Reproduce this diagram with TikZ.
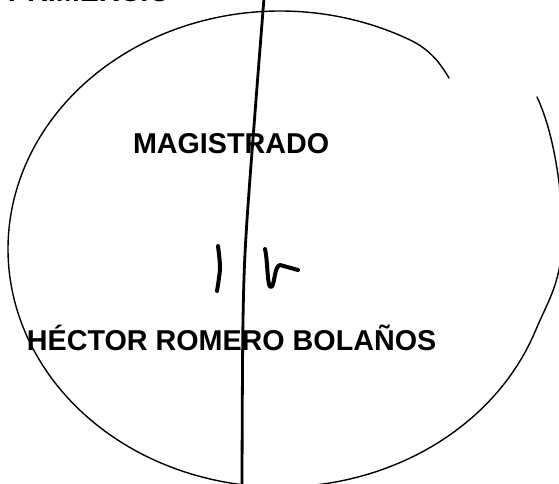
\documentclass[tikz,border=0pt]{standalone}
\usepackage{fontspec}
\setmainfont{Liberation Sans}
\begin{document}
\begin{tikzpicture}[x=1pt,y=-1pt,
  lbl/.style={inner sep=0pt,outer sep=0pt,anchor=base west,font=\fontsize{28.7}{30}\selectfont\bfseries},
  outline/.style={line width=1.4pt,line join=round,line cap=round},
  rule/.style={line width=2.8pt,line cap=round,line join=round},
  ink/.style={line width=4pt,line cap=round,line join=round}]
\useasboundingbox (0,0) rectangle (559,484);
\clip (0,0) rectangle (559,484);
% header text, cut by the top edge
\node[lbl] (head) at (8,2) {PRIMERCIO};
% hand-drawn closed curve
\coordinate (gapL) at (449,78);
\coordinate (gapR) at (537,97);
\draw[outline] (gapL) .. controls (440,63) and (430,49) .. (408,39)
  -- plot[domain=62:340,samples=140,smooth] ({280+272*cos(\x)},{249-238*sin(\x)})
  .. controls (547,303) and (560,285) .. (562,245)
  .. controls (564,200) and (555,135) .. (gapR);
% texts
\node[lbl] (mag) at (133,153) {MAGISTRADO};
\node[lbl] (name) at (27,350) {HÉCTOR ROMERO BOLAÑOS};
% vertical stroke
\coordinate (vtop) at (264,-2);
\coordinate (vmid1) at (247,220);
\coordinate (vmid2) at (243,320);
\coordinate (vbot) at (242,486);
\draw[rule] plot[smooth,tension=0.5] coordinates {(vtop) (vmid1) (vmid2) (vbot)};
% signature strokes
\coordinate (s1a) at (218,246);
\coordinate (s1b) at (220,268);
\coordinate (s1c) at (217,291);
\draw[ink] plot[smooth] coordinates {(s1a) (s1b) (s1c)};
\coordinate (s2a) at (265,249);
\coordinate (s2b) at (271,287);
\coordinate (s2c) at (280,265);
\coordinate (s2d) at (298,270);
\draw[ink] (s2a) .. controls (268,262) and (267,288) .. (s2b)
  .. controls (275,286) and (274,266) .. (s2c) -- (s2d);
\end{tikzpicture}
\end{document}
